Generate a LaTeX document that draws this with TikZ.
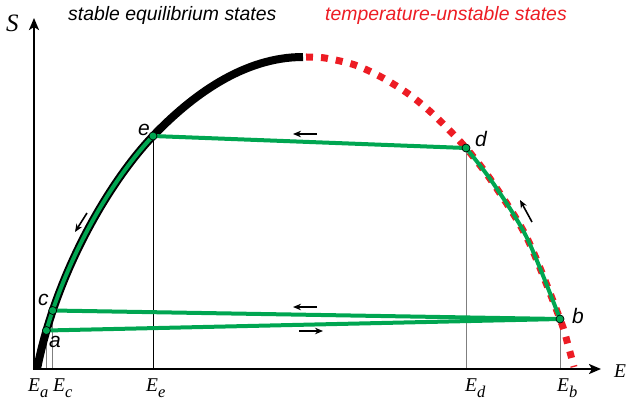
\documentclass[tikz,border=0pt]{standalone}
\usepackage{fontspec}
\setmainfont{Liberation Serif}
\setsansfont{Liberation Sans}
\usetikzlibrary{arrows.meta}
\definecolor{CycleGreen}{HTML}{00A651}
\definecolor{UnstableRed}{HTML}{ED1C24}
\definecolor{DropGray}{HTML}{7F7F7F}
\newcommand{\Elab}[1]{\textit{E}\raisebox{-6pt}{\fontsize{16.5}{16.5}\selectfont\textit{#1}}}

\begin{document}
\begin{tikzpicture}[x=1pt,y=-1pt,
    cycleline/.style={draw=CycleGreen,line width=4pt},
    dropline/.style={draw=DropGray,line width=0.8pt},
    flowarrow/.style={-{Stealth[length=8pt,width=6.5pt]},line width=1.6pt},
    statept/.style={circle,fill=CycleGreen,draw=black,line width=0.7pt,inner sep=0pt,minimum size=8pt},
    ptlabel/.style={font=\fontsize{21}{21}\selectfont\sffamily\itshape,inner sep=0pt,anchor=base west},
    axlabel/.style={font=\fontsize{19.5}{20}\selectfont,inner sep=0pt,anchor=base west}]
  \useasboundingbox (0,0) rectangle (628,407);

  % states of the cycle
  \coordinate (a) at (46.4,330.5);
  \coordinate (b) at (560,319);
  \coordinate (c) at (52.7,310.5);
  \coordinate (d) at (466,148);
  \coordinate (e) at (153,136);
  \coordinate (top) at (303,57);
  \coordinate (O) at (34,369);

  % drop lines to the E axis
  \draw[dropline] (a) -- (a |- O);
  \draw[dropline] (c) -- (c |- O);
  \draw[dropline,draw=black] (e) -- (e |- O);
  \draw[dropline] (d) -- (d |- O);
  \draw[dropline] (b) -- (b |- O);

  % axes
  \draw[line width=2.5pt,-{Stealth[length=12pt,width=10pt,inset=3pt]}] (O) -- (34,18);
  \draw[line width=2.5pt,-{Stealth[length=12pt,width=10pt,inset=3pt]}] ([xshift=-1.25pt]O) -- (601,369);

  % entropy curve
  \draw[line width=8pt] (37,369) .. controls (57,269) and (111.6,179.2) .. (e)
    .. controls (191,96.4) and (243,57) .. (top);
  \draw[UnstableRed,line width=7pt,dash pattern=on 7pt off 8pt] plot[smooth] coordinates
    {([xshift=3pt]top) (325,58) (355,65) (383,78) (410,95) (435,116) (d) (493,183) (527,238) (b) (568,345) (574,367)};

  % cycle
  \draw[cycleline] (a) .. controls (70.9,246.4) and (117,173.6) .. (e);
  \draw[cycleline] plot[smooth] coordinates {(d) (493,183) (527,238) (b)};
  \draw[cycleline] (a) -- (b);
  \draw[cycleline] (c) -- (b);
  \draw[cycleline] (e) -- (d);

  \node[statept] (pa) at (a) {};
  \node[statept] (pb) at (b) {};
  \node[statept] (pc) at (c) {};
  \node[statept] (pd) at (d) {};
  \node[statept] (pe) at (e) {};

  % direction of travel
  \coordinate (de1) at (317,134);  \coordinate (de2) at (293,134);
  \coordinate (ec1) at (87,213);   \coordinate (ec2) at (75,232);
  \coordinate (bd1) at (532,222);  \coordinate (bd2) at (520,200);
  \coordinate (bc1) at (317,307);  \coordinate (bc2) at (293,307);
  \coordinate (ab1) at (299,331);  \coordinate (ab2) at (323,331);
  \draw[flowarrow] (de1) -- (de2);
  \draw[flowarrow] (ec1) -- (ec2);
  \draw[flowarrow] (bd1) -- (bd2);
  \draw[flowarrow] (bc1) -- (bc2);
  \draw[flowarrow] (ab1) -- (ab2);

  % labels
  \node[ptlabel] (la) at (49,347) {a};
  \node[ptlabel] (lb) at (572,323) {b};
  \node[ptlabel] (lc) at (38,305) {c};
  \node[ptlabel] (ld) at (475,146) {d};
  \node[ptlabel] (le) at (138,135) {e};

  \node[axlabel,font=\fontsize{25}{26}\selectfont] (S) at (6,31) {\textit{S}};
  \node[axlabel] (E) at (614,377) {\textit{E}};
  \node[axlabel] (Ea) at (28,391) {\Elab{a}};
  \node[axlabel] (Ec) at (53,391) {\Elab{c}};
  \node[axlabel] (Ee) at (146,391) {\Elab{e}};
  \node[axlabel] (Ed) at (465,391) {\Elab{d}};
  \node[axlabel] (Eb) at (557,391) {\Elab{b}};

  \node[axlabel,font=\fontsize{19.4}{20}\selectfont\sffamily\itshape] (stable) at (68,20)
    {stable equilibrium states};
  \node[axlabel,font=\fontsize{19.4}{20}\selectfont\sffamily\itshape,text=UnstableRed] (unstable) at (325,20)
    {temperature-unstable states};
\end{tikzpicture}
\end{document}
